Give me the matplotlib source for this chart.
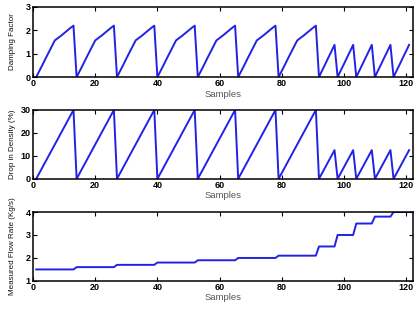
import matplotlib
matplotlib.use('Agg')
import matplotlib.pyplot as plt
import numpy as np

plt.rcParams['font.family'] = ['Liberation Sans', 'DejaVu Sans']

# one sawtooth period for the long cycles (13 samples) and short cycles (6 samples)
long_drop = [0, 2.5, 5, 7.5, 10, 12.5, 15, 17.5, 20, 22.5, 25, 27.5, 30]
short_drop = [0, 2.5, 5, 7.5, 10, 12.5]
long_damping = [0, 0.26, 0.52, 0.79, 1.05, 1.31, 1.57, 1.67, 1.77, 1.88, 1.99, 2.1, 2.2]
short_damping = [0, 0.28, 0.55, 0.83, 1.1, 1.38]

# flow rate level held through each cycle
flow_levels = [1.5, 1.6, 1.7, 1.8, 1.9, 2.0, 2.1, 2.5, 3.0, 3.5, 3.8, 4.0]
cycle_kind = ['long'] * 7 + ['short'] * 5

drop, damping, flow = [], [], []
for kind, lvl in zip(cycle_kind, flow_levels):
    d = long_drop if kind == 'long' else short_drop
    k = long_damping if kind == 'long' else short_damping
    drop += d
    damping += k
    flow += [lvl] * len(d)
samples = np.arange(1, len(drop) + 1)

panels = [
    (damping, 'Damping Factor', (0, 3), [0, 1, 2, 3], [0.756, 0.222]),
    (drop, 'Drop in Density (%)', (0, 30), [0, 10, 20, 30], [0.434, 0.218]),
    (flow, 'Measured Flow Rate (Kg/s)', (1, 4), [1, 2, 3, 4], [0.111, 0.218]),
]

fig = plt.figure(figsize=(4.19, 3.16), dpi=100)
line_color = '#2222e6'

for vals, ylabel, ylim, yticks, (bottom, height) in panels:
    ax = fig.add_axes([0.079, bottom, 0.907, height])
    ax.plot(samples, vals, color=line_color, linewidth=1.4)
    ax.set_xlim(0, 122.3)
    ax.set_ylim(*ylim)
    ax.set_xticks([0, 20, 40, 60, 80, 100, 120])
    ax.set_yticks(yticks)
    ax.tick_params(direction='in', top=True, right=True, length=3, width=0.8,
                   labelsize=6.5, pad=1.5)
    for lab in ax.get_xticklabels() + ax.get_yticklabels():
        lab.set_fontweight('bold')
    for sp in ax.spines.values():
        sp.set_linewidth(1.1)
    ax.set_xlabel('Samples', fontsize=6.8, color='#555555', labelpad=1)
    ax.set_ylabel(ylabel, fontsize=5.8, color='#111111')
    ax.yaxis.set_label_coords(-0.045, 0.5)

plt.savefig('out.png', dpi=100)
plt.close()
